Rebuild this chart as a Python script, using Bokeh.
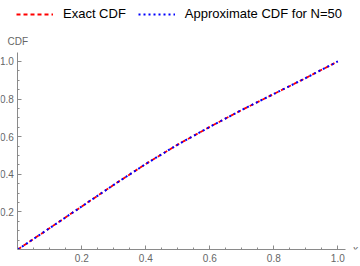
from bokeh.plotting import figure
from bokeh.models import Legend, LegendItem, Label, FixedTicker, Range1d, NumeralTickFormatter
from bokeh.embed import file_html
from bokeh.resources import INLINE

# data
x_vals = [0.0, 0.1, 0.2, 0.3, 0.4, 0.5, 0.6, 0.7, 0.8, 0.9, 1.0]
exact_cdf = [0.0, 0.114, 0.229, 0.344, 0.455, 0.558, 0.652, 0.742, 0.827, 0.912, 1.0]
approx_cdf = [0.0, 0.114, 0.229, 0.344, 0.455, 0.558, 0.652, 0.742, 0.827, 0.912, 1.0]
major_ticks = [0.2, 0.4, 0.6, 0.8, 1.0]
minor_ticks = [0.05 * i for i in range(1, 21) if i % 4 != 0]

FONT = "Liberation Sans"
AXIS_COL = "#8a8a8a"
LABEL_COL = "#666666"

p = figure(width=360, height=266, x_range=Range1d(-0.054, 1.071), y_range=Range1d(0, 1.324),
           output_backend="svg", toolbar_location=None,
           min_border_left=0, min_border_right=0, min_border_top=0, min_border_bottom=17)
p.outline_line_color = None
p.xgrid.visible = False
p.ygrid.visible = False

r1 = p.line(x_vals, exact_cdf, line_color="#ff0000", line_width=1.8, line_dash="4 3")
r2 = p.line(x_vals, approx_cdf, line_color="#0000ff", line_width=2, line_dash="2 3")

for ax, bnd in ((p.xaxis[0], (0, 1.024)), (p.yaxis[0], (0, 1.048))):
    ax.bounds = bnd
    ax.ticker = FixedTicker(ticks=major_ticks, minor_ticks=minor_ticks)
    ax.formatter = NumeralTickFormatter(format="0.0")
    ax.axis_line_color = AXIS_COL
    ax.major_tick_line_color = AXIS_COL
    ax.minor_tick_line_color = AXIS_COL
    ax.major_tick_in = 4
    ax.major_tick_out = 0
    ax.minor_tick_in = 2
    ax.minor_tick_out = 0
    ax.major_label_text_font = FONT
    ax.major_label_text_font_size = "10px"
    ax.major_label_text_color = LABEL_COL
    ax.major_label_standoff = 4
p.yaxis[0].fixed_location = 0

legend = Legend(items=[LegendItem(label="Exact CDF", renderers=[r1]),
                       LegendItem(label="Approximate CDF for N=50", renderers=[r2])],
                orientation="horizontal", location=(16, 228),
                glyph_width=37, glyph_height=14, label_height=14, label_standoff=10,
                spacing=12, padding=0, margin=0, border_line_color=None,
                background_fill_alpha=0, label_text_font=FONT,
                label_text_font_size="13px", label_text_color="#000000")
p.add_layout(legend)

p.add_layout(Label(x=0, y=1.108, text="CDF", text_align="center", text_baseline="alphabetic",
                   text_font=FONT, text_font_size="10px", text_color=LABEL_COL))
p.add_layout(Label(x=1.047, y=0, text="x", text_align="left", text_baseline="middle",
                   text_font=FONT, text_font_size="10px", text_font_style="italic",
                   text_color=LABEL_COL))

open("out.html", "w").write(file_html(p, INLINE))
